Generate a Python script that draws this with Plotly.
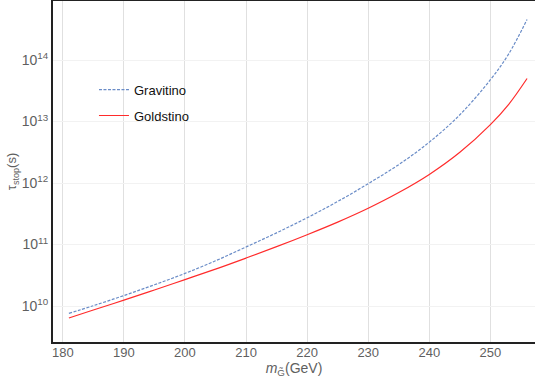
import plotly.graph_objects as go

# Stop lifetime versus gravitino mass
m_grav = [181, 185, 190, 195, 200, 205, 210, 215, 220, 225, 230, 235, 240, 245, 250, 253, 256]
tau_gravitino = [7.59e9, 1.012e10, 1.479e10, 2.213e10, 3.388e10, 5.433e10, 9.12e10, 1.549e11,
                 2.723e11, 5.012e11, 9.772e11, 1.995e12, 4.624e12, 1.288e13, 4.786e13, 1.259e14, 4.571e14]
tau_goldstino = [6.383e9, 8.61e9, 1.245e10, 1.82e10, 2.692e10, 3.981e10, 6.026e10, 9.226e10,
                 1.445e11, 2.317e11, 3.89e11, 6.998e11, 1.38e12, 3.162e12, 8.913e12, 1.905e13, 5.012e13]

x_ticks = [180, 190, 200, 210, 220, 230, 240, 250]
y_ticks = [1e10, 1e11, 1e12, 1e13, 1e14]
y_tick_text = ["10<sup>10</sup>", "10<sup>11</sup>", "10<sup>12</sup>", "10<sup>13</sup>", "10<sup>14</sup>"]

FONT = "Liberation Sans, Arial, Helvetica, sans-serif"
TICK_GREY = "#5f5f5f"

fig = go.Figure()
fig.add_trace(go.Scatter(
    x=m_grav, y=tau_gravitino, mode="lines", name="Gravitino", legendgroup="g1",
    line=dict(color="#6a8cc7", width=1.2, dash="3px,1.5px", shape="spline"),
))
fig.add_trace(go.Scatter(
    x=m_grav, y=tau_goldstino, mode="lines", name="Goldstino", legendgroup="g2",
    line=dict(color="#ff2b2b", width=1.2, shape="spline"),
))

fig.update_layout(
    width=535, height=381,
    margin=dict(l=53, r=0, t=1, b=39),
    paper_bgcolor="white", plot_bgcolor="white",
    font=dict(family=FONT, size=14, color=TICK_GREY),
    showlegend=True,
    legend=dict(
        x=0.085, y=0.784, xanchor="left", yanchor="top",
        bgcolor="rgba(0,0,0,0)", font=dict(size=13, color="#111111"),
        itemwidth=30, tracegroupgap=6, traceorder="grouped",
    ),
    xaxis=dict(
        range=[178.4, 257.3], tickvals=x_ticks,
        showgrid=True, gridcolor="#e0e0e0", gridwidth=1.3,
        showline=True, linecolor="#222222", linewidth=2, mirror=True,
        ticks="", ticklabelstandoff=-3,
        tickfont=dict(size=13, color=TICK_GREY),
        title=dict(text="<i>m</i><sub>G̃</sub>(GeV)", font=dict(size=14, color=TICK_GREY), standoff=0),
        zeroline=False,
    ),
    yaxis=dict(
        type="log", range=[9.415, 14.96],
        tickvals=y_ticks, ticktext=y_tick_text,
        showgrid=True, gridcolor="#f2f2f2", gridwidth=1,
        showline=True, linecolor="#222222", linewidth=2, mirror=False,
        ticks="", tickfont=dict(size=14, color=TICK_GREY),
        title=dict(text="τ<sub>stop</sub>(s)", font=dict(size=13, color=TICK_GREY), standoff=2),
        zeroline=False,
    ),
)

fig.write_html("out.html")
